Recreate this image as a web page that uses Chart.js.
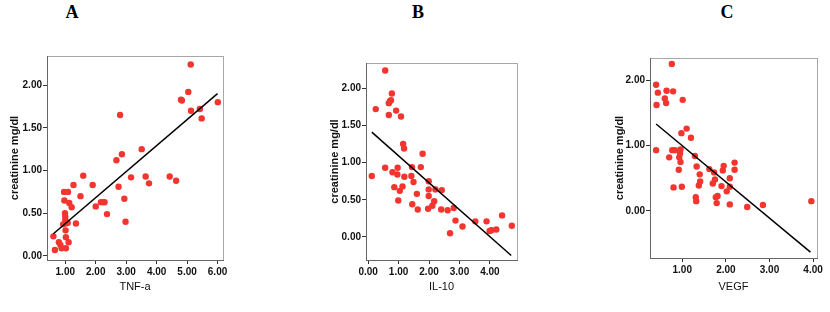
<!DOCTYPE html>
<html>
<head>
<meta charset="utf-8">
<script src="https://cdn.jsdelivr.net/npm/chart.js@4.4.1/dist/chart.umd.min.js"></script>
<style>
  body { margin: 0; background: #fff; }
  #wrap { position: relative; width: 830px; height: 312px; overflow: hidden; }
  canvas { position: absolute; top: 0; }
  .letter {
    position: absolute; top: 2px; width: 40px; margin-left: -20px; text-align: center;
    font-family: "Liberation Serif", "Times New Roman", serif; font-weight: bold; font-size: 18px;
  }
</style>
</head>
<body>
<div id="wrap">
  <div class="letter" style="left:72px">A</div>
  <div class="letter" style="left:418px">B</div>
  <div class="letter" style="left:727px">C</div>
  <canvas id="chartA" width="275" height="312" style="left:0px"></canvas>
  <canvas id="chartB" width="285" height="312" style="left:275px"></canvas>
  <canvas id="chartC" width="270" height="312" style="left:560px"></canvas>
</div>
<script>
// Panel A: TNF-a vs creatinine
const tnfX = [0.61, 0.66, 0.79, 0.84, 0.88, 0.96, 0.97, 0.99, 1.00, 1.00, 1.01, 0.93, 1.01, 1.02, 1.02, 1.04, 1.08, 1.09, 1.11, 1.13,
  1.21, 1.27, 1.35, 1.50, 1.59, 1.90, 2.00, 2.17, 2.25, 2.29, 2.37, 2.68, 2.75, 2.80, 2.86, 2.94, 2.98, 3.16, 3.51, 3.64,
  3.75, 4.43, 4.64, 4.80, 4.83, 5.04, 5.12, 5.13, 5.42, 5.48, 6.01];
const tnfCreat = [0.23, 0.07, 0.16, 0.13, 0.09, 0.75, 0.65, 0.50, 0.46, 0.42, 0.38, 0.37, 0.30, 0.22, 0.09, 0.39, 0.39, 0.75, 0.16, 0.62,
  0.57, 0.83, 0.38, 0.70, 0.94, 0.83, 0.58, 0.63, 0.63, 0.63, 0.49, 1.12, 0.81, 1.65, 1.19, 0.67, 0.40, 0.92, 1.25, 0.93,
  0.85, 0.93, 0.88, 1.83, 1.82, 1.92, 2.24, 1.70, 1.72, 1.61, 1.80];
const tnfFitX = [0.61, 6.00];
const tnfFitY = [0.26, 1.90];
const tnfTicksX = [1, 2, 3, 4, 5, 6];
const tnfTicksY = [0, 0.5, 1, 1.5, 2];

// Panel B: IL-10 vs creatinine
const il10X = [0.12, 0.25, 0.56, 0.56, 0.68, 0.68, 0.72, 0.75, 0.78, 0.80, 0.86, 0.92, 0.96, 0.97, 0.99, 1.04, 1.08, 1.13, 1.15, 1.18,
  1.19, 1.42, 1.44, 1.45, 1.49, 1.60, 1.63, 1.73, 1.79, 1.97, 1.99, 1.99, 1.99, 2.11, 2.17, 2.21, 2.40, 2.42, 2.61, 2.69,
  2.81, 2.87, 3.10, 3.52, 3.89, 3.99, 4.05, 4.21, 4.40, 4.72];
const il10Creat = [0.82, 1.72, 2.24, 0.93, 1.64, 1.80, 1.83, 1.84, 1.93, 0.87, 0.67, 1.70, 0.84, 0.93, 0.49, 0.62, 1.62, 0.68, 1.25, 1.19,
  0.81, 0.82, 0.94, 0.44, 0.74, 0.58, 0.37, 0.94, 1.12, 0.38, 0.75, 0.64, 0.55, 0.42, 0.48, 0.64, 0.37, 0.63, 0.36, 0.05,
  0.39, 0.22, 0.14, 0.21, 0.21, 0.08, 0.09, 0.10, 0.29, 0.15];
const il10FitX = [0.12, 4.70];
const il10FitY = [1.41, -0.25];
const il10TicksX = [0, 1, 2, 3, 4];
const il10TicksY = [0, 0.5, 1, 1.5, 2];

// Panel C: VEGF vs creatinine
const vegfX = [0.40, 0.41, 0.40, 0.44, 0.60, 0.63, 0.64, 0.70, 0.76, 0.77, 0.79, 0.80, 0.83, 0.92, 0.93, 0.95, 0.96, 0.96, 0.98, 0.99,
  1.01, 1.10, 1.20, 1.29, 1.31, 1.32, 1.33, 1.38, 1.40, 1.41, 1.62, 1.70, 1.73, 1.75, 1.77, 1.79, 1.81, 1.90, 1.93, 1.95,
  2.02, 2.09, 2.09, 2.09, 2.20, 2.20, 2.49, 2.85, 3.96];
const vegfCreat = [1.93, 1.62, 0.93, 1.81, 1.72, 1.65, 1.84, 0.82, 2.25, 0.93, 1.83, 0.36, 0.93, 0.63, 0.82, 0.88, 0.94, 0.75, 1.19, 0.37,
  1.70, 1.26, 1.12, 0.84, 0.21, 0.15, 0.68, 0.39, 0.56, 0.45, 0.64, 0.42, 0.59, 0.48, 0.21, 0.12, 0.23, 0.38, 0.62, 0.69,
  0.30, 0.10, 0.50, 0.37, 0.74, 0.63, 0.06, 0.09, 0.15];
const vegfFitX = [0.40, 3.94];
const vegfFitY = [1.33, -0.63];
const vegfTicksX = [1, 2, 3, 4];
const vegfTicksY = [0, 1, 2];

const tickFont = "'Liberation Sans', Arial, sans-serif";

// gray frame round the plot area
const framePlugin = {
  id: "frame",
  beforeDraw(chart) {
    const { ctx, chartArea: a } = chart;
    ctx.save();
    ctx.strokeStyle = "#a8a8a8";
    ctx.lineWidth = 1;
    ctx.strokeRect(Math.round(a.left) + 0.5, Math.round(a.top) + 0.5, Math.round(a.right - a.left), Math.round(a.bottom - a.top));
    ctx.restore();
  },
};

function toPoints(xs, ys) {
  return xs.map((x, i) => ({ x: x, y: ys[i] }));
}

// box = plot area inside the canvas, lim = axis ranges
function makePanel(id, xs, ys, fitX, fitY, ticksX, ticksY, xTitle, box, lim) {
  const canvas = document.getElementById(id);
  const W = canvas.width, H = canvas.height;
  new Chart(canvas, {
    type: "scatter",
    data: {
      datasets: [
        {
          data: toPoints(xs, ys),
          backgroundColor: "#f2352f",
          borderWidth: 0,
          pointRadius: 3.2,
          order: 2,
        },
        {
          type: "line",
          data: toPoints(fitX, fitY),
          borderColor: "#000",
          borderWidth: 1.5,
          pointRadius: 0,
          fill: false,
          order: 1,
        },
      ],
    },
    options: {
      responsive: false,
      animation: false,
      devicePixelRatio: 1,
      layout: { padding: { left: box.padLeft, top: box.top, right: W - box.right, bottom: 0 } },
      plugins: { legend: { display: false }, tooltip: { enabled: false } },
      scales: {
        x: {
          type: "linear",
          min: lim.xMin,
          max: lim.xMax,
          afterBuildTicks: (s) => { s.ticks = ticksX.map((v) => ({ value: v })); },
          afterFit: (s) => { s.height = H - box.bottom; },
          grid: { drawOnChartArea: false, tickLength: 4, color: "#333" },
          border: { color: "#666" },
          ticks: {
            padding: 2,
            color: "#111",
            font: { family: tickFont, size: 10, weight: "bold" },
            callback: (v) => Number(v).toFixed(2),
          },
          title: {
            display: true,
            text: xTitle,
            color: "#111",
            font: { family: "'Liberation Sans', Arial, sans-serif", size: 11 },
            padding: { top: 0, bottom: 18 },
          },
        },
        y: {
          type: "linear",
          min: lim.yMin,
          max: lim.yMax,
          afterBuildTicks: (s) => { s.ticks = ticksY.map((v) => ({ value: v })); },
          afterFit: (s) => { s.width = box.left - box.padLeft; },
          grid: { drawOnChartArea: false, tickLength: 4, color: "#333" },
          border: { color: "#666" },
          ticks: {
            padding: 1,
            color: "#111",
            font: { family: tickFont, size: 10, weight: "bold" },
            callback: (v) => Number(v).toFixed(2),
          },
          title: {
            display: true,
            text: "creatinine mg/dl",
            color: "#111",
            font: { family: "'Liberation Sans', Arial, sans-serif", size: 11, weight: "bold" },
            padding: { top: box.yTitleX - box.padLeft - 7, bottom: 0 },
          },
        },
      },
    },
    plugins: [framePlugin],
  });
}

makePanel("chartA", tnfX, tnfCreat, tnfFitX, tnfFitY, tnfTicksX, tnfTicksY, "TNF-a",
  { padLeft: 0, left: 47, top: 56, right: 223, bottom: 260, yTitleX: 15 },
  { xMin: 0.4, xMax: 6.18, yMin: -0.047, yMax: 2.34 });

makePanel("chartB", il10X, il10Creat, il10FitX, il10FitY, il10TicksX, il10TicksY, "IL-10",
  { padLeft: 40, left: 91, top: 63, right: 242, bottom: 260, yTitleX: 60 },
  { xMin: -0.07, xMax: 4.89, yMin: -0.31, yMax: 2.34 });

makePanel("chartC", vegfX, vegfCreat, vegfFitX, vegfFitY, vegfTicksX, vegfTicksY, "VEGF",
  { padLeft: 40, left: 90, top: 58, right: 257, bottom: 258, yTitleX: 60 },
  { xMin: 0.26, xMax: 4.09, yMin: -0.72, yMax: 2.34 });
</script>
</body>
</html>
